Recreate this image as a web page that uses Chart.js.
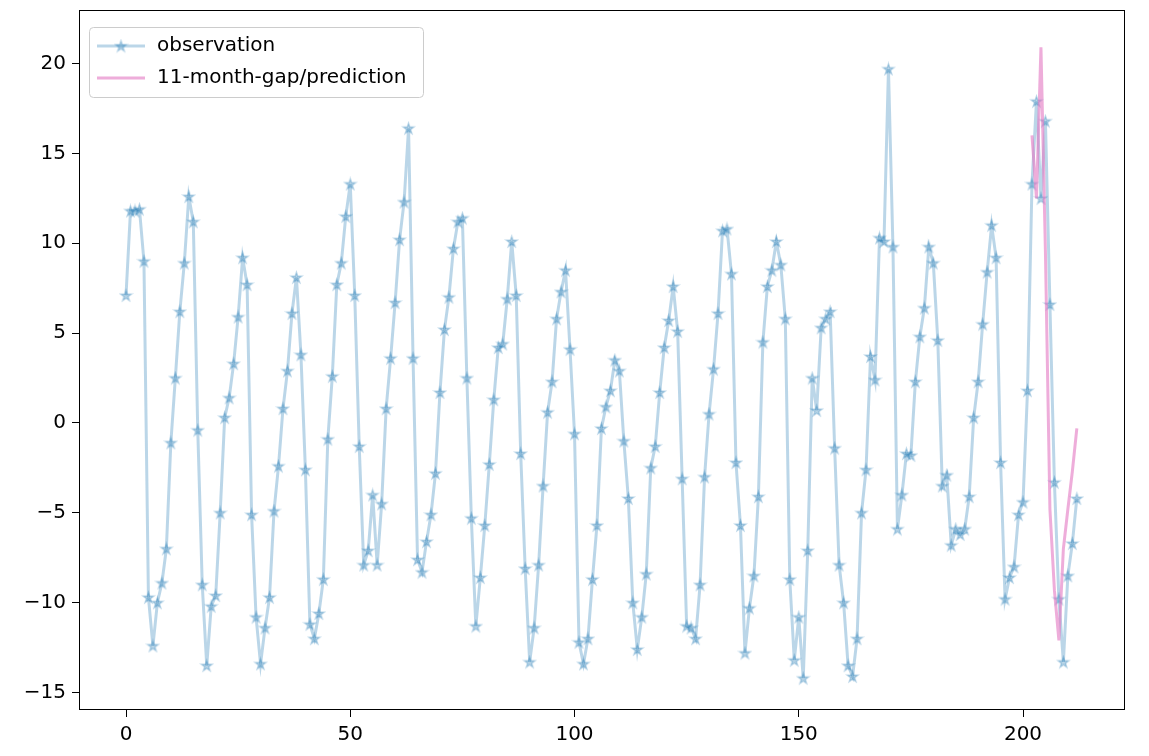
<!DOCTYPE html>
<html>
<head>
<meta charset="utf-8">
<script src="https://cdn.jsdelivr.net/npm/chart.js@4.4.1/dist/chart.umd.min.js"></script>
<style>
  html, body { margin: 0; padding: 0; background: #fff; }
  #wrap { width: 1149px; height: 756px; }
</style>
</head>
<body>
<div id="wrap"><canvas id="chart" width="1149" height="756"></canvas></div>
<script>
// observation series, one value per month (index 0..212)
const observation = [
  7.1, 11.8, 11.8, 11.9, 9.0, -9.7, -12.4, -10.0, -8.9, -7.0,
  -1.1, 2.5, 6.2, 8.9, 12.6, 11.2, -0.4, -9.0, -13.5, -10.2,
  -9.6, -5.0, 0.3, 1.4, 3.3, 5.9, 9.2, 7.7, -5.1, -10.8,
  -13.4, -11.4, -9.7, -4.9, -2.4, 0.8, 2.9, 6.1, 8.1, 3.8,
  -2.6, -11.2, -12.0, -10.6, -8.7, -0.9, 2.6, 7.7, 8.9, 11.5,
  13.3, 7.1, -1.3, -7.9, -7.1, -4.0, -7.9, -4.5, 0.8, 3.6,
  6.7, 10.2, 12.3, 16.4, 3.6, -7.6, -8.3, -6.6, -5.1, -2.8,
  1.7, 5.2, 7.0, 9.7, 11.2, 11.4, 2.5, -5.3, -11.3, -8.6,
  -5.7, -2.3, 1.3, 4.2, 4.4, 6.9, 10.1, 7.1, -1.7, -8.1,
  -13.3, -11.4, -7.9, -3.5, 0.6, 2.3, 5.8, 7.3, 8.5, 4.1,
  -0.6, -12.2, -13.4, -12.0, -8.7, -5.7, -0.3, 0.9, 1.8, 3.5,
  2.9, -1.0, -4.2, -10.0, -12.6, -10.8, -8.4, -2.5, -1.3, 1.7,
  4.2, 5.7, 7.6, 5.1, -3.1, -11.3, -11.4, -12.0, -9.0, -3.0,
  0.5, 3.0, 6.1, 10.7, 10.8, 8.3, -2.2, -5.7, -12.8, -10.3,
  -8.5, -4.1, 4.5, 7.6, 8.5, 10.1, 8.8, 5.8, -8.7, -13.2,
  -10.8, -14.2, -7.1, 2.5, 0.7, 5.3, 5.8, 6.2, -1.4, -7.9,
  -10.0, -13.5, -14.1, -12.0, -5.0, -2.6, 3.7, 2.4, 10.3, 10.1,
  19.7, 9.8, -5.9, -4.0, -1.7, -1.8, 2.3, 4.8, 6.4, 9.8,
  8.9, 4.6, -3.5, -2.9, -6.8, -5.9, -6.2, -5.9, -4.1, 0.3,
  2.3, 5.5, 8.4, 11.0, 9.2, -2.2, -9.8, -8.6, -8.0, -5.1,
  -4.4, 1.8, 13.3, 17.9, 12.5, 16.8, 6.6, -3.3, -9.8, -13.3,
  -8.5, -6.7, -4.2
];

// prediction over the last 11 months
const predMonths = [202, 203, 204, 205, 206, 207, 208, 209, 210, 211, 212];
const predValues = [16.0, 12.5, 20.9, 9.5, -4.8, -9.3, -12.1, -7.0, -4.8, -2.7, -0.3];

const xTicks = [0, 50, 100, 150, 200];
const yTicks = [-15, -10, -5, 0, 5, 10, 15, 20];
const seriesLabels = ['observation', '11-month-gap/prediction'];

const FONT = '"DejaVu Sans", sans-serif';
const FS = 20;
const OBS_COLOR = 'rgba(31,119,180,0.3)';
const PRED_COLOR = 'rgba(227,119,194,0.6)';

// matplotlib style filled star marker
function makeStar(r) {
  const c = document.createElement('canvas');
  const size = Math.ceil(r * 2 + 4);
  c.width = size; c.height = size;
  const g = c.getContext('2d');
  const cx = size / 2, cy = size / 2 + 0.5, inner = r * 0.382;
  g.beginPath();
  for (let k = 0; k < 10; k++) {
    const rad = k % 2 === 0 ? r : inner;
    const a = -Math.PI / 2 + k * Math.PI / 5;
    const px = cx + rad * Math.cos(a), py = cy + rad * Math.sin(a);
    if (k === 0) g.moveTo(px, py); else g.lineTo(px, py);
  }
  g.closePath();
  g.fillStyle = OBS_COLOR;
  g.fill();
  g.lineWidth = 1.5;
  g.lineJoin = 'miter';
  g.strokeStyle = OBS_COLOR;
  g.stroke();
  return c;
}
const star = makeStar(5.5);

const fmt = v => (v < 0 ? '\u2212' + Math.abs(v) : String(v));

const framePlugin = {
  id: 'frame',
  afterDraw(chart) {
    const { ctx, chartArea: a } = chart;
    ctx.save();
    ctx.strokeStyle = '#000';
    ctx.lineWidth = 1;
    ctx.strokeRect(Math.round(a.left) + 0.5, Math.round(a.top) + 0.5,
      Math.round(a.right - a.left) - 1, Math.round(a.bottom - a.top) - 1);
    ctx.restore();
  }
};

const legendPlugin = {
  id: 'mplLegend',
  afterDraw(chart) {
    const ctx = chart.ctx;
    const bx = 89.5, by = 27.5, bw = 334, bh = 70;
    ctx.save();
    ctx.beginPath();
    ctx.roundRect(bx, by, bw, bh, 4);
    ctx.fillStyle = 'rgba(255,255,255,0.8)';
    ctx.fill();
    ctx.strokeStyle = '#cccccc';
    ctx.lineWidth = 1;
    ctx.stroke();

    const rows = [46, 78];
    // observation handle
    ctx.lineWidth = 3;
    ctx.strokeStyle = OBS_COLOR;
    ctx.beginPath(); ctx.moveTo(97, rows[0]); ctx.lineTo(145, rows[0]); ctx.stroke();
    ctx.drawImage(star, 121 - star.width / 2, rows[0] - star.height / 2);
    // prediction handle
    ctx.strokeStyle = PRED_COLOR;
    ctx.beginPath(); ctx.moveTo(97, rows[1]); ctx.lineTo(145, rows[1]); ctx.stroke();

    ctx.fillStyle = '#000';
    ctx.font = FS + 'px ' + FONT;
    ctx.textBaseline = 'middle';
    ctx.textAlign = 'left';
    seriesLabels.forEach((t, i) => ctx.fillText(t, 157, rows[i]));
    ctx.restore();
  }
};

const axisCommon = {
  type: 'linear',
  grid: { display: true, drawOnChartArea: false, drawTicks: true, tickLength: 7, color: '#000', lineWidth: 1 },
  border: { display: false },
  ticks: { color: '#000', font: { family: FONT, size: FS }, padding: 6, maxRotation: 0, autoSkip: false, callback: v => fmt(v) }
};

new Chart(document.getElementById('chart'), {
  type: 'line',
  data: {
    datasets: [
      {
        label: seriesLabels[0],
        data: observation.map((v, i) => ({ x: i, y: v })),
        borderColor: OBS_COLOR,
        borderWidth: 3,
        pointStyle: star,
        pointRadius: 5,
        tension: 0,
        order: 1
      },
      {
        label: seriesLabels[1],
        data: predMonths.map((m, i) => ({ x: m, y: predValues[i] })),
        borderColor: PRED_COLOR,
        borderWidth: 3,
        pointRadius: 0,
        tension: 0,
        order: 0
      }
    ]
  },
  options: {
    responsive: false,
    animation: false,
    events: [],
    layout: { padding: { top: 10, right: 24, left: 0, bottom: 0 } },
    plugins: { legend: { display: false }, tooltip: { enabled: false } },
    scales: {
      x: {
        ...axisCommon,
        min: -10.48, max: 222.74,
        afterBuildTicks: s => { s.ticks = xTicks.map(v => ({ value: v })); },
        afterFit: s => { s.height = 46; s.paddingLeft = 0; s.paddingRight = 0; }
      },
      y: {
        ...axisCommon,
        min: -15.97, max: 22.98,
        afterBuildTicks: s => { s.ticks = yTicks.map(v => ({ value: v })); },
        afterFit: s => { s.width = 79; s.paddingTop = 0; s.paddingBottom = 0; }
      }
    }
  },
  plugins: [framePlugin, legendPlugin]
});
</script>
</body>
</html>
